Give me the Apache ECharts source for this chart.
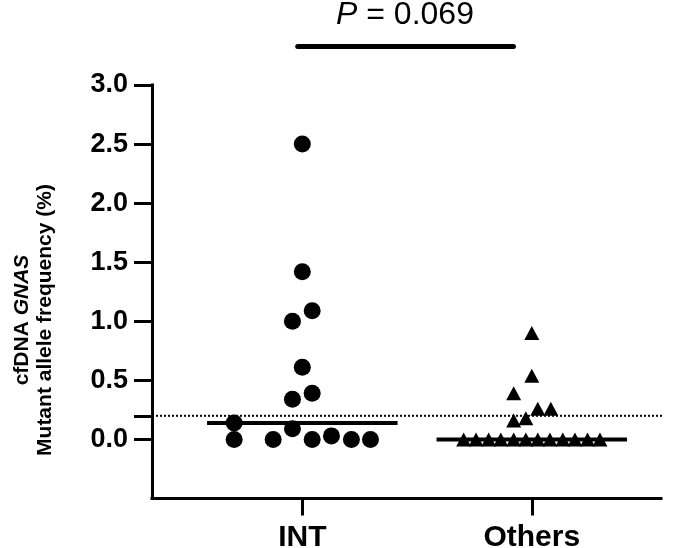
<!DOCTYPE html>
<html>
<head>
<meta charset="utf-8">
<script src="https://cdn.jsdelivr.net/npm/echarts@6/dist/echarts.min.js"></script>
<style>
  html, body { margin: 0; padding: 0; background: #fff; }
  #chart { width: 685px; height: 548px; }
</style>
</head>
<body>
<div id="chart"></div>
<script>
// group names on the x axis (group 1 = INT, group 2 = Others)
const groupNames = ["INT", "Others"];

// cfDNA GNAS mutant allele frequency (%)
const intValues = [2.5, 1.42, 1.09, 1.0, 0.61, 0.39, 0.34, 0.14, 0.09, 0, 0, 0, 0.03, 0, 0];
// horizontal scatter of each dot inside its group (in group units)
const intJitter = [0, 0, 0.043, -0.043, 0, 0.043, -0.043, -0.297, -0.043, -0.297, -0.127, 0.043, 0.127, 0.214, 0.297];

const othersValues = [0.9, 0.54, 0.39, 0.26, 0.26, 0.18, 0.16, 0, 0, 0, 0, 0, 0, 0, 0, 0, 0, 0, 0];
const othersJitter = [0, 0, -0.079, 0.026, 0.083, -0.026, -0.079, -0.297, -0.243, -0.188, -0.135, -0.079, -0.026, 0.026, 0.079, 0.135, 0.188, 0.243, 0.297];

const yTicks = [0, 0.5, 1.0, 1.5, 2.0, 2.5, 3.0];
const cutoff = 0.2;
const pValueText = "0.069";
// comparison bracket: x range and height
const pBarX = [0.98, 1.92];
const pBarY = 3.325;

const xMin = 0.345;
const xMax = 2.563;
const medianHalf = 0.415;

function median(arr) {
  const s = arr.slice().sort((a, b) => a - b);
  const m = Math.floor(s.length / 2);
  return s.length % 2 ? s[m] : (s[m - 1] + s[m]) / 2;
}

function points(values, jitter, group) {
  return values.map((v, i) => [group + jitter[i], v]);
}

function medianLine(values, group) {
  const m = median(values);
  return [[group - medianHalf, m], [group + medianHalf, m]];
}

const chart = echarts.init(document.getElementById("chart"));

const option = {
  animation: false,
  grid: {
    left: 152,
    right: 24,
    top: 85,
    bottom: 49.5,
    containLabel: false,
    outerBoundsMode: "none",
  },
  xAxis: {
    type: "value",
    min: xMin,
    max: xMax,
    splitLine: { show: false },
    axisLine: { onZero: false, lineStyle: { color: "#000", width: 3, cap: "square" } },
    axisTick: {
      customValues: [1, 2],
      length: 17,
      lineStyle: { color: "#000", width: 3 },
    },
    axisLabel: {
      customValues: [1, 2],
      formatter: (v) => groupNames[Math.round(v) - 1],
      color: "#000",
      fontFamily: "Liberation Sans",
      fontWeight: "bold",
      fontSize: 30,
      margin: 24,
    },
  },
  yAxis: {
    type: "value",
    min: -0.5,
    max: 3.0,
    splitLine: { show: false },
    axisLine: { onZero: false, lineStyle: { color: "#000", width: 3, cap: "square" } },
    axisTick: {
      customValues: [0, cutoff, 0.5, 1.0, 1.5, 2.0, 2.5, 3.0],
      length: 18,
      lineStyle: { color: "#000", width: 3 },
    },
    axisLabel: {
      customValues: yTicks,
      formatter: (v) => v.toFixed(1),
      color: "#000",
      fontFamily: "Liberation Sans",
      fontWeight: "bold",
      fontSize: 27,
      margin: 24,
    },
  },
  graphic: [
    {
      type: "text",
      x: 34,
      y: 320,
      rotation: Math.PI / 2,
      style: {
        text: "{b|cfDNA }{bi|GNAS}\n{b|Mutant allele frequency (%)}",
        align: "center",
        verticalAlign: "middle",
        rich: {
          b: { fontFamily: "Liberation Sans", fontWeight: "bold", fontSize: 21, lineHeight: 23, fill: "#000" },
          bi: { fontFamily: "Liberation Sans", fontWeight: "bold", fontStyle: "italic", fontSize: 21, lineHeight: 23, fill: "#000" },
        },
      },
    },
    {
      type: "text",
      x: 405,
      y: 15,
      style: {
        text: "{i|P}{n| = " + pValueText + "}",
        align: "center",
        verticalAlign: "middle",
        rich: {
          i: { fontFamily: "Liberation Sans", fontStyle: "italic", fontSize: 32, fill: "#000" },
          n: { fontFamily: "Liberation Sans", fontSize: 32, fill: "#000" },
        },
      },
    },
  ],
  series: [
    {
      name: "cutoff",
      type: "line",
      clip: false,
      symbol: "none",
      data: [[xMin, cutoff], [xMax + 0.095, cutoff]],
      lineStyle: { color: "#000", width: 2, type: [2, 2] },
      z: 1,
    },
    {
      name: "INT",
      type: "scatter",
      symbol: "circle",
      symbolSize: 17,
      data: points(intValues, intJitter, 1),
      itemStyle: { color: "#000", opacity: 1 },
      z: 3,
    },
    {
      name: "Others",
      type: "scatter",
      symbol: "triangle",
      symbolSize: [15, 14],
      data: points(othersValues, othersJitter, 2),
      itemStyle: { color: "#000", opacity: 1 },
      z: 3,
    },
    {
      name: "INT median",
      type: "line",
      symbol: "none",
      data: medianLine(intValues, 1),
      lineStyle: { color: "#000", width: 4 },
      z: 4,
    },
    {
      name: "Others median",
      type: "line",
      symbol: "none",
      data: medianLine(othersValues, 2),
      lineStyle: { color: "#000", width: 4 },
      z: 4,
    },
    {
      name: "P bracket",
      type: "line",
      clip: false,
      symbol: "none",
      data: [[pBarX[0], pBarY], [pBarX[1], pBarY]],
      lineStyle: { color: "#000", width: 5, cap: "round" },
      z: 4,
    },
  ],
};

chart.setOption(option);
</script>
</body>
</html>
